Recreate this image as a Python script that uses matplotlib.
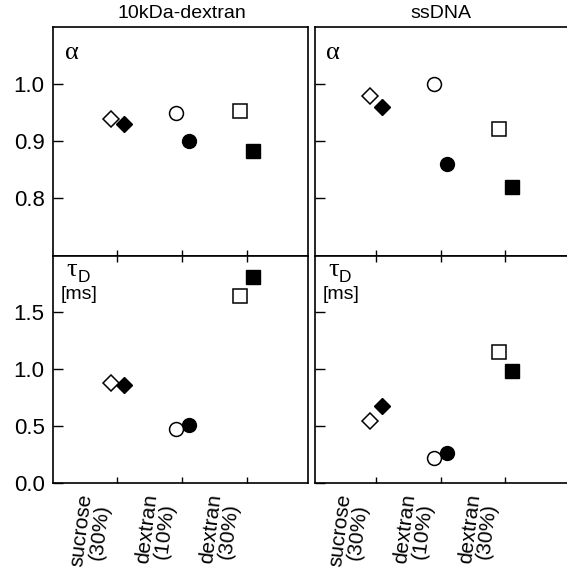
import matplotlib
matplotlib.use('Agg')
import matplotlib.pyplot as plt
from matplotlib.ticker import FormatStrFormatter
from matplotlib.transforms import ScaledTranslation

plt.rcParams['font.family'] = 'Liberation Sans'

# conditions on the x axis
conditions = ['sucrose\n(30%)', 'dextran\n(10%)', 'dextran\n(30%)']
positions = [1, 2, 3]
markers = ['D', 'o', 's']
titles = ['10kDa-dextran', 'ssDNA']

# values (open / filled symbols)
dextran_alpha_open = [0.94, 0.95, 0.953]
dextran_alpha_filled = [0.93, 0.90, 0.884]
dextran_tau_open = [0.877, 0.476, 1.646]
dextran_tau_filled = [0.862, 0.511, 1.807]

ssdna_alpha_open = [0.979, 1.0, 0.921]
ssdna_alpha_filled = [0.96, 0.86, 0.82]
ssdna_tau_open = [0.546, 0.219, 1.149]
ssdna_tau_filled = [0.68, 0.263, 0.988]

alpha_ticks = [0.8, 0.9, 1.0]
tau_ticks = [0.0, 0.5, 1.0, 1.5]

W, H = 567, 571
fig = plt.figure(figsize=(W / 100, H / 100), dpi=100)


def box(x0, y0, x1, y1):
    # pixel box -> figure fraction
    return [x0 / W, 1 - y1 / H, (x1 - x0) / W, (y1 - y0) / H]


ax_tl = fig.add_axes(box(53, 27.3, 307.5, 255.5))
ax_bl = fig.add_axes(box(53, 255.5, 307.5, 483.3))
ax_tr = fig.add_axes(box(314.6, 27.3, 567, 255.5))
ax_br = fig.add_axes(box(314.6, 255.5, 567, 483.3))

msize = {'D': 8, 'o': 10, 's': 9.5}


def draw(ax, open_vals, filled_vals):
    for i, x in enumerate(positions):
        m = markers[i]
        ax.plot(x + 0.1, filled_vals[i], marker=m, ms=msize[m], mfc='black',
                mec='black', mew=1.0, ls='none', zorder=3)
        ax.plot(x - 0.1, open_vals[i], marker=m, ms=msize[m], mfc='white',
                mec='black', mew=1.1, ls='none', zorder=4)


draw(ax_tl, dextran_alpha_open, dextran_alpha_filled)
draw(ax_bl, dextran_tau_open, dextran_tau_filled)
draw(ax_tr, ssdna_alpha_open, ssdna_alpha_filled)
draw(ax_br, ssdna_tau_open, ssdna_tau_filled)

for ax in [ax_tl, ax_bl]:
    ax.set_xlim(0.006, 3.935)
for ax in [ax_tr, ax_br]:
    ax.set_xlim(0.048, 3.96)
    ax.spines['right'].set_visible(False)

for ax in [ax_tl, ax_tr]:
    ax.set_ylim(0.7, 1.1)
    ax.set_yticks(alpha_ticks)
for ax in [ax_bl, ax_br]:
    ax.set_ylim(0.0, 2.0)
    ax.set_yticks(tau_ticks)

for ax in [ax_tl, ax_bl, ax_tr, ax_br]:
    for s in ax.spines.values():
        s.set_linewidth(1.2)
    ax.set_xticks(positions)
    ax.yaxis.set_major_formatter(FormatStrFormatter('%.1f'))
    ax.tick_params(axis='y', direction='in', length=7, width=1.0,
                   left=True, right=False, labelsize=16, pad=6)
    ax.tick_params(axis='x', direction='in', length=4, width=1.0)

for ax in [ax_tl, ax_tr]:
    ax.tick_params(axis='x', bottom=True, top=False, labelbottom=False)
shift = ScaledTranslation(-3 / 72, 0, fig.dpi_scale_trans)
for ax in [ax_bl, ax_br]:
    ax.tick_params(axis='x', bottom=True, top=True, labelbottom=True, pad=10)
    ax.set_xticklabels(conditions, rotation=83, ha='right', va='bottom',
                       rotation_mode='anchor', multialignment='center',
                       fontsize=15, linespacing=0.92)
    for lbl in ax.get_xticklabels():
        lbl.set_transform(lbl.get_transform() + shift)

for ax in [ax_tr, ax_br]:
    ax.tick_params(axis='y', labelleft=False)

ax_tl.set_title(titles[0], fontsize=14, x=(2 - 0.006) / (3.935 - 0.006), pad=7)
ax_tr.set_title(titles[1], fontsize=14, x=(2 - 0.048) / (3.96 - 0.048), pad=7)

# panel labels
for ax in [ax_tl, ax_tr]:
    ax.annotate('α', xy=(0, 1), xycoords='axes fraction', xytext=(8.5, -23),
                textcoords='offset points', fontsize=19, family='Liberation Serif',
                ha='left', va='baseline')
for ax in [ax_bl, ax_br]:
    ax.annotate('τ', xy=(0, 1), xycoords='axes fraction', xytext=(10, -15),
                textcoords='offset points', fontsize=19, family='Liberation Serif',
                ha='left', va='baseline')
    ax.annotate('D', xy=(0, 1), xycoords='axes fraction', xytext=(17.5, -19),
                textcoords='offset points', fontsize=12.5,
                ha='left', va='baseline')
    ax.annotate('[ms]', xy=(0, 1), xycoords='axes fraction', xytext=(5.5, -31),
                textcoords='offset points', fontsize=14,
                ha='left', va='baseline')

fig.savefig('out.png', dpi=100)
